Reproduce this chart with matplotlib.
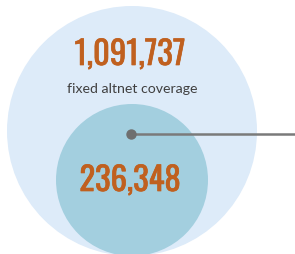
import matplotlib.pyplot as plt
import matplotlib.patheffects as pe
from matplotlib.patches import Circle

labels = ["fixed altnet coverage", ""]
values = [1091737, 236348]

fig = plt.figure(figsize=(2.95, 2.55), dpi=100)
ax = fig.add_axes([0, 0, 1, 1])
ax.set_xlim(0, 295)
ax.set_ylim(255, 0)
ax.set_aspect("equal")
ax.axis("off")

# outer and inner circles
ax.add_patch(Circle((132, 132), 125, color="#ddebf9", lw=0))
ax.add_patch(Circle((132, 181), 76, color="#a3cfdf", lw=0))

# leader line
ax.plot([131, 295], [135, 135], color="#7a7a7a", lw=1.8, solid_capstyle="butt")
ax.plot([131], [135], "o", color="#6f6f6f", ms=6.5)

# Oswald only ships one weight here, so thicken it a bit
bold = [pe.withStroke(linewidth=0.5, foreground="#c0601f")]
num_font = dict(family=["Oswald", "Barlow Condensed", "DejaVu Sans"], fontweight="bold",
                color="#c0601f", fontsize=23.5, path_effects=bold)
ax.text(130, 56, f"{values[0]:,}", ha="center", va="center", **num_font)
ax.text(130, 182, f"{values[1]:,}", ha="center", va="center", **num_font)
ax.text(132, 89, labels[0], ha="center", va="center", family=["Lato", "DejaVu Sans"],
        color="#404040", fontsize=10.2)

fig.savefig("out.png", dpi=100)
